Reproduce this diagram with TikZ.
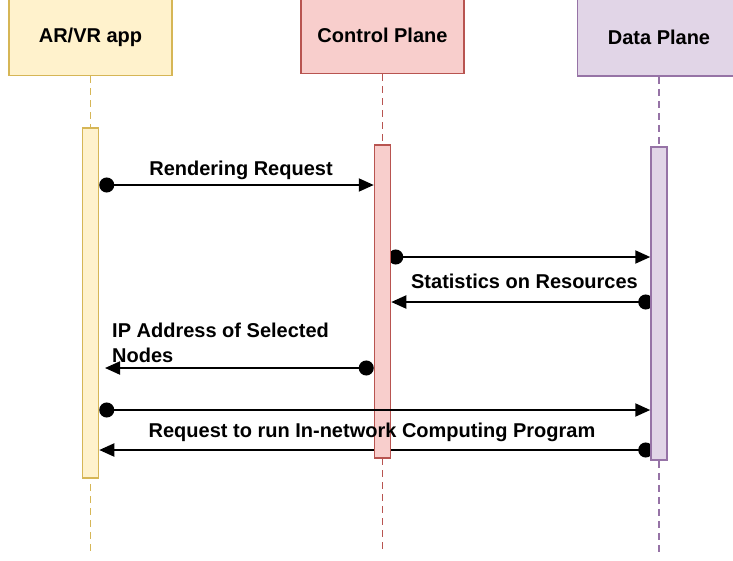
\documentclass[tikz,border=0pt]{standalone}
\usepackage{fontspec}
\setmainfont{Liberation Sans}
\usetikzlibrary{arrows.meta}
\definecolor{yfill}{HTML}{FFF2CC}\definecolor{ydraw}{HTML}{D6B656}
\definecolor{rfill}{HTML}{F8CECC}\definecolor{rdraw}{HTML}{B85450}
\definecolor{pfill}{HTML}{E1D5E7}\definecolor{pdraw}{HTML}{9673A6}
\pgfdeclarelayer{bg}\pgfsetlayers{bg,main}
\begin{document}
\begin{tikzpicture}[x=1pt,y=-1pt,
 hdr/.style={draw, line width=1.5pt, inner sep=0pt, font=\bfseries\fontsize{20}{24}\selectfont},
 bar/.style={draw, line width=1.5pt, minimum width=16pt, inner sep=0pt},
 life/.style={line width=1.4pt, dash pattern=on 7pt off 5pt},
 msg/.style={line width=2pt, {Circle[length=15pt]}-{Triangle[length=15pt,width=13pt]}},
 lbl/.style={font=\bfseries\fontsize{20}{25}\selectfont, inner sep=0pt, anchor=base}]
\useasboundingbox (0,0) rectangle (733,560);
% headers
\node[hdr, fill=yfill, draw=ydraw, minimum width=163pt, minimum height=77pt] (hA) at (90.5,37) {AR/VR app};
\node[hdr, fill=rfill, draw=rdraw, minimum width=163pt, minimum height=77pt] (hC) at (382.5,35) {Control Plane};
\node[hdr, fill=pfill, draw=pdraw, minimum width=163pt, minimum height=78pt] (hD) at (659,37) {Data Plane};
% lifeline ends
\coordinate (lA) at (90.5,552);
\coordinate (lC) at (382.5,552);
\coordinate (lD) at (659,552);
% activation bars
\node[bar, fill=yfill, draw=ydraw, minimum height=350pt] (bA) at (90.5,303) {};
\node[bar, fill=rfill, draw=rdraw, minimum height=313pt] (bC) at (382.5,301.5) {};
\node[bar, fill=pfill, draw=pdraw, minimum height=313pt] (bD) at (659,303.5) {};
\begin{pgfonlayer}{bg}
\draw[life, draw=ydraw] (hA.south) -- (lA);
\draw[life, draw=rdraw] (hC.south) -- (lC);
\draw[life, draw=pdraw] (hD.south) -- (lD);
\end{pgfonlayer}
% message rows
\coordinate (y1) at (0,185);
\coordinate (y2) at (0,257);
\coordinate (y3) at (0,302);
\coordinate (y4) at (0,368);
\coordinate (y5) at (0,410);
\coordinate (y6) at (0,450);
\coordinate (e4) at (105,368);
\draw[msg] (bA.east |- y1) -- (bC.west |- y1);
\begin{pgfonlayer}{bg}
\draw[msg] ([xshift=-3pt]bC.east |- y2) -- (bD.west |- y2);
\draw[msg] ([xshift=3pt]bD.west |- y3) -- (bC.east |- y3);
\end{pgfonlayer}
\draw[msg] (bC.west |- y4) -- (e4);
\draw[msg] (bA.east |- y5) -- (bD.west |- y5);
\begin{pgfonlayer}{bg}
\draw[msg] ([xshift=3pt]bD.west |- y6) -- (bA.east |- y6);
\end{pgfonlayer}
% labels
\node[lbl] (t1) at (241,175) {Rendering Request};
\node[lbl] (t3) at (524.5,288) {Statistics on Resources};
\node[lbl, anchor=base west, align=left] (t4) at (112,362) {IP Address of Selected\\Nodes};
\node[lbl] (t6) at (372,437) {Request to run In-network Computing Program};
\end{tikzpicture}
\end{document}
